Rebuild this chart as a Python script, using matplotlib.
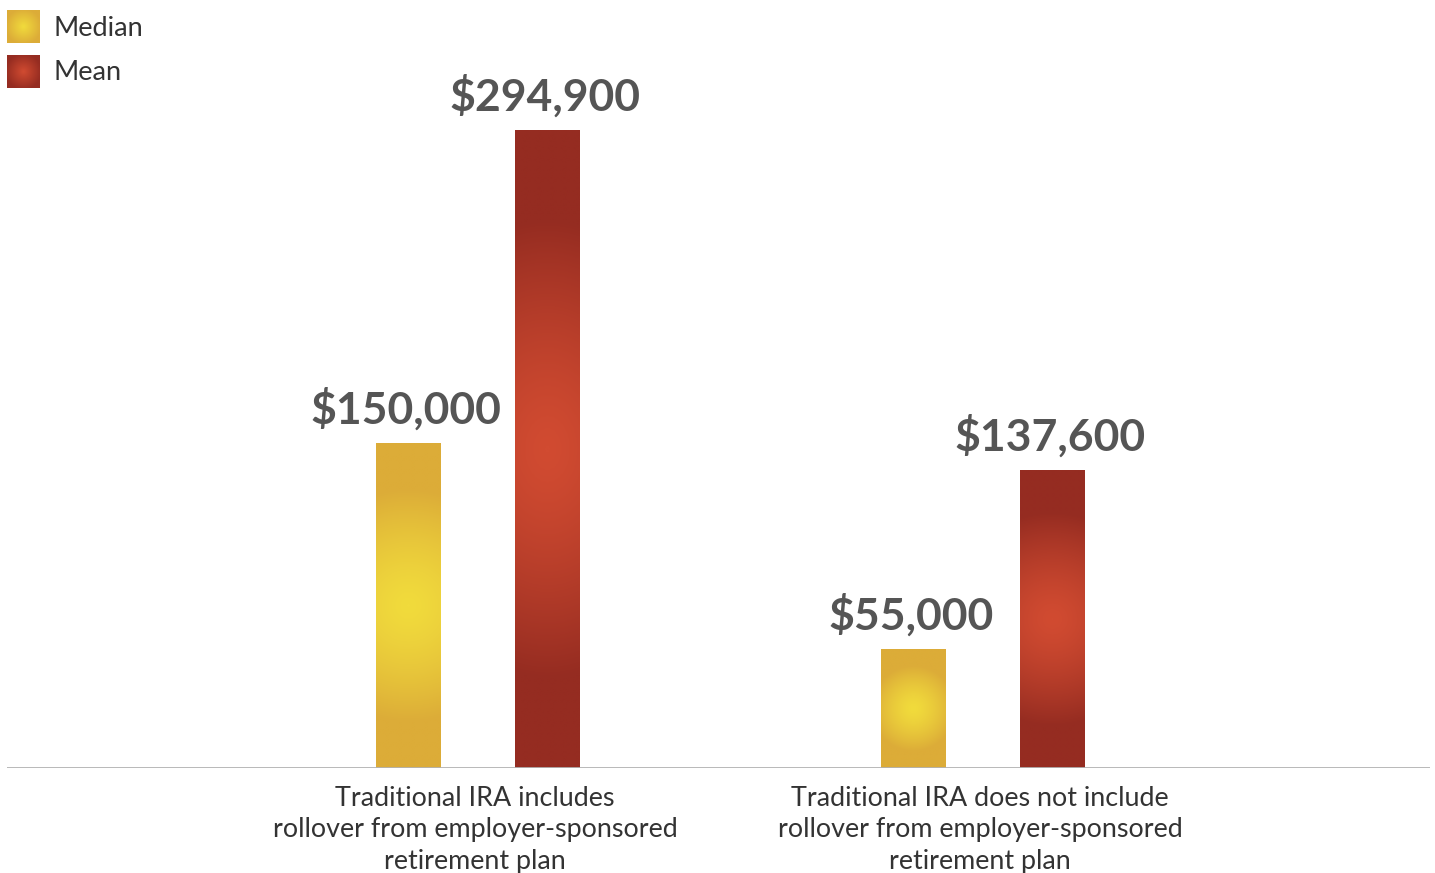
import numpy as np
import matplotlib.pyplot as plt
from matplotlib.colors import LinearSegmentedColormap

# Datos del grafico
categorias = ["Traditional IRA includes\nrollover from employer-sponsored\nretirement plan",
              "Traditional IRA does not include\nrollover from employer-sponsored\nretirement plan"]
series = ["Median", "Mean"]
mediana = [150000, 55000]
media = [294900, 137600]

plt.rcParams['font.family'] = ['Lato', 'DejaVu Sans']

# Degradados: centro claro, borde oscuro
cmap_amarillo = LinearSegmentedColormap.from_list("amarillo", ["#F1DB3C", "#DCAC38"])
cmap_rojo = LinearSegmentedColormap.from_list("rojo", ["#D14B31", "#952C21"])


def degradado(ax, barra, cmap):
    """Rellena una barra con un degradado radial eliptico."""
    x0, y0 = barra.get_x(), barra.get_y()
    w, h = barra.get_width(), barra.get_height()
    # proporcion ancho/alto en pixeles para que las barras cortas queden mas redondas
    (px0, py0), (px1, py1) = ax.transData.transform([(x0, y0), (x0 + w, y0 + h)])
    peso_x = max(0.15, abs(px1 - px0) / abs(py1 - py0))
    yy, xx = np.mgrid[-1:1:300j, -1:1:60j]
    t = np.sqrt((peso_x * xx) ** 2 + yy ** 2)
    t = np.clip(t / 0.72, 0, 1) ** 1.4
    ax.imshow(t, cmap=cmap, vmin=0, vmax=1, extent=(x0, x0 + w, y0, y0 + h),
              aspect='auto', origin='lower', interpolation='bilinear', zorder=2)
    barra.set_visible(False)


fig = plt.figure(figsize=(14.35, 8.73), dpi=100)
ax = fig.add_axes([7 / 1435, 105 / 873, 1423 / 1435, 768 / 873])

x = np.arange(len(categorias))
ancho = 0.1287
sep = 0.2752

barras_med = ax.bar(x - sep / 2, mediana, ancho)
barras_mean = ax.bar(x + sep / 2, media, ancho)

ax.set_ylim(0, 355060)
ax.set_xlim((7 - 478) / 505, (1430 - 478) / 505)

for b in barras_med:
    degradado(ax, b, cmap_amarillo)
for b in barras_mean:
    degradado(ax, b, cmap_rojo)

ax.set_ylim(0, 355060)
ax.set_xlim((7 - 478) / 505, (1430 - 478) / 505)

# Etiquetas de valor
for xs, vals in ((x - sep / 2, mediana), (x + sep / 2, media)):
    for xi, v in zip(xs, vals):
        ax.annotate(f"${v:,}", (xi, v), xytext=(-2, 9), textcoords='offset points',
                    ha='center', va='bottom', fontsize=32, fontweight='bold', color='#555555')

# Linea base
ax.axhline(0, xmin=0, xmax=1, color='#B2B2B2', lw=2, zorder=3)
for s in ax.spines.values():
    s.set_visible(False)
ax.set_xticks([])
ax.set_yticks([])

# Etiquetas de categoria
for xi, cat in zip(x, categorias):
    ax.annotate(cat, (xi, 0), xytext=(-2, -13), textcoords='offset points',
                ha='center', va='top', fontsize=19.4, color='#333333', linespacing=1.32,
                annotation_clip=False)

# Leyenda
for i, (nombre, cmap) in enumerate(zip(series, (cmap_amarillo, cmap_rojo))):
    yy, xx = np.mgrid[-1:1:60j, -1:1:60j]
    t = np.clip(np.sqrt(xx ** 2 + yy ** 2) / 1.1, 0, 1)
    y_top = 10 + 45 * i
    lax = fig.add_axes([7 / 1435, 1 - (y_top + 33) / 873, 33 / 1435, 33 / 873])
    lax.imshow(t, cmap=cmap, vmin=0, vmax=1, aspect='auto', interpolation='bilinear')
    lax.axis('off')
    fig.text(53 / 1435, 1 - (y_top + 18) / 873, nombre, fontsize=19.5, color='#333333',
             ha='left', va='center')

fig.savefig("out.png", dpi=100)
